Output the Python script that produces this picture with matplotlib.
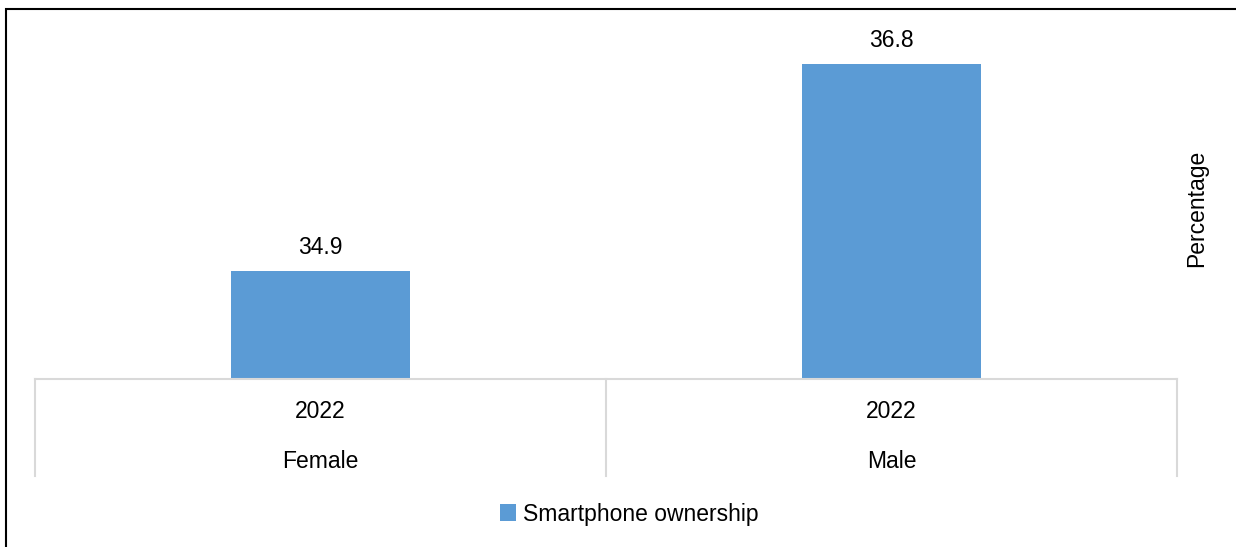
import matplotlib.pyplot as plt
from matplotlib.patches import Rectangle
from matplotlib.lines import Line2D
import matplotlib.transforms as mtransforms

years = ["2022", "2022"]
sexes = ["Female", "Male"]
ownership = [34.9, 36.8]
series_name = "Smartphone ownership"

plt.rcParams['font.family'] = ['Liberation Sans', 'DejaVu Sans']

W, H = 1236, 547
fig = plt.figure(figsize=(W / 100, H / 100), dpi=100)

# axes placed in pixel terms of the reference
left, right, bottom, top = 35, 1177, 379, 10
ax = fig.add_axes([left / W, (H - bottom) / H, (right - left) / W, (bottom - top) / H])

color = '#5B9BD5'
fs = 16.5
x = list(range(len(sexes)))
ax.bar(x, ownership, width=0.314, color=color, label=series_name, zorder=2)

# y-axis is hidden; baseline chosen so bar heights match the picture
ymin = 33.91
ymax = ymin + (bottom - top) / 108.95
ax.set_ylim(ymin, ymax)
ax.set_xlim(-0.5, len(sexes) - 0.5)

for xi, v in zip(x, ownership):
    ax.annotate(f"{v:.1f}", (xi, v), xytext=(0, 17), textcoords='offset points',
                ha='center', va='center', fontsize=fs)

for s in ['top', 'right', 'left']:
    ax.spines[s].set_visible(False)
ax.spines['bottom'].set_color('#D9D9D9')
ax.spines['bottom'].set_linewidth(1.5)
ax.set_yticks([])
ax.set_xticks([])

# multi-level category axis below the plot
trans = mtransforms.blended_transform_factory(ax.transData, ax.transAxes)
depth = (476 - bottom) / (bottom - top)
for xb in [-0.5, 0.5, 1.5]:
    ax.add_line(Line2D([xb, xb], [0, -depth], transform=trans, color='#D9D9D9',
                       lw=1.5, clip_on=False))
for xi, yr, sx in zip(x, years, sexes):
    ax.text(xi, -(412 - bottom) / (bottom - top), yr, transform=trans,
            ha='center', va='center', fontsize=fs)
    ax.text(xi, -(461 - bottom) / (bottom - top), sx, transform=trans,
            ha='center', va='center', fontsize=fs)

fig.text(1197 / W, 1 - 208 / H, "Percentage", rotation=90, ha='center', va='center',
         fontsize=fs)

fig.legend(loc='center', bbox_to_anchor=(629 / W, 1 - 514 / H), frameon=False,
           fontsize=fs, handlelength=0.7, handleheight=0.7, handletextpad=0.3)

# outer chart border
fig.patches.append(Rectangle((6 / W, -0.1), 1.2, 1 - 9 / H + 0.1, transform=fig.transFigure,
                             fill=False, edgecolor='black', lw=1.5))

fig.savefig('out.png', dpi=100)
